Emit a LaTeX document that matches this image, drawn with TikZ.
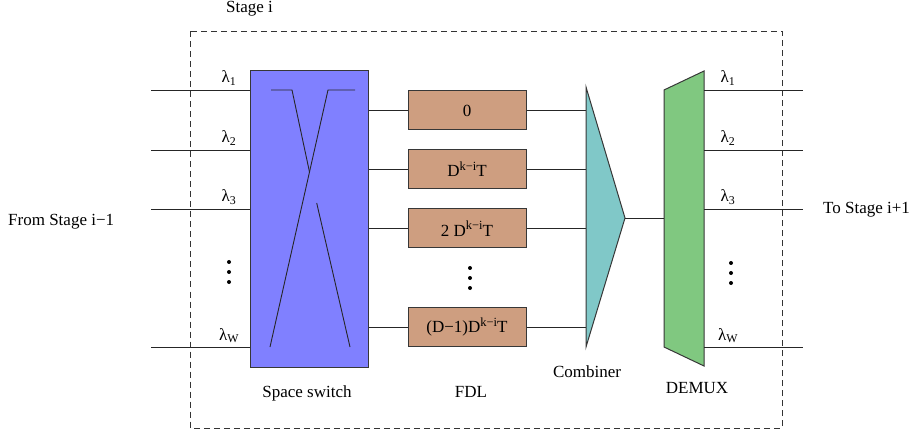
\documentclass[tikz,border=0pt]{standalone}
\usepackage{fontspec}
\setmainfont{Liberation Serif}
\usepackage{tikz}
\usetikzlibrary{calc,positioning}
\definecolor{swblue}{RGB}{128,128,255}
\definecolor{fdltan}{RGB}{206,158,128}
\definecolor{cmbteal}{RGB}{128,200,200}
\definecolor{dmxgreen}{RGB}{128,200,128}
\definecolor{edgegrey}{RGB}{55,55,55}
\newcommand{\dkiT}{D\raisebox{6.5pt}{\fontsize{12.5}{14}\selectfont k−i}T}
\tikzset{
  wire/.style={line width=0.9pt, draw=black!85},
  blk/.style={draw=edgegrey, line width=1pt},
  swbox/.style={blk, fill=swblue, minimum width=118pt, minimum height=296pt},
  fdlbox/.style={
    blk,
    fill=fdltan,
    minimum width=118pt,
    minimum height=39pt,
    inner sep=0pt,
    font=\fontsize{17}{20}\selectfont
  },
  lbl/.style={inner sep=0pt, font=\fontsize{17}{20}\selectfont},
  stagebox/.style={draw=black!80, dash pattern=on 6pt off 4pt, line width=0.9pt}
}

\begin{document}
\begin{tikzpicture}[x=1pt,y=-1pt]
  \useasboundingbox (0,0) rectangle (915,430);

  % stage frame
  \draw[stagebox] (190.5,31.5) rectangle (782,428);
  \node[lbl,anchor=base west] (stage) at (226,12.5) {Stage i};

  % space switch
  \node[swbox] (sw) at (309,219) {};
  \draw[wire] (271,90) -- (292,90) -- (309.5,172);
  \draw[wire] (316.7,203) -- (350,347);
  \draw[wire] (355,90) -- (328,90) -- (270,347);

  % inputs
  \foreach \y/\s/\n in {90/1/1,150/2/2,209/3/3,347/W/w}{
    \coordinate (in\n) at (151,\y);
    \draw[wire] (in\n) -- (in\n -| sw.west);
    \node[lbl,anchor=base] (lamin\n) at (229,\y-7) {λ\textsubscript{\s}};
  }

  % fibre delay lines
  \coordinate (cmbl) at (586,218);
  \foreach \n/\y/\t in {1/110.5/{0},2/169/{\dkiT},
      3/228.5/{2 \dkiT},4/327/{(D−1)\dkiT}}{
    \node[fdlbox] (fdl\n) at (467,\y) {\t};
    \draw[wire] (fdl\n.west -| sw.east) -- (fdl\n.west);
    \draw[wire] (fdl\n.east) -- (fdl\n.east -| cmbl);
  }

  % combiner
  \coordinate (cmbtop) at (586,87);
  \coordinate (cmbtip) at (625,218);
  \coordinate (cmbbot) at (586,347);
  \draw[blk,fill=cmbteal] (cmbtop) -- (cmbtip) -- (cmbbot) -- cycle;

  % demux
  \coordinate (dmxl) at (664,218);
  \coordinate (dmxr) at (704,218);
  \draw[blk,fill=dmxgreen] (664,90) -- (704,71) -- (704,366) -- (664,347) -- cycle;
  \draw[wire] (cmbtip) -- (dmxl);

  % outputs
  \foreach \y/\s/\n in {90/1/1,150/2/2,209/3/3,347/W/w}{
    \coordinate (out\n) at (803,\y);
    \draw[wire] (out\n -| dmxr) -- (out\n);
    \node[lbl,anchor=base] (lamout\n) at (728,\y-7) {λ\textsubscript{\s}};
  }

  % dots
  \foreach \x/\y in {229/262,470/268,731/263}
    \foreach \d in {0,10,20}
      \fill (\x,\y+\d) circle (2pt);

  % captions
  \node[lbl,anchor=base] (swcap) at (307,397) {Space switch};
  \node[lbl,anchor=base] (fdlcap) at (471,397) {FDL};
  \node[lbl,anchor=base] (cmbcap) at (587,377) {Combiner};
  \node[lbl,anchor=base] (dmxcap) at (697,393) {DEMUX};
  \node[lbl,anchor=base west] (from) at (8,225.5) {From Stage i−1};
  \node[lbl,anchor=base west] (to) at (823,214) {To Stage i+1};
\end{tikzpicture}
\end{document}
